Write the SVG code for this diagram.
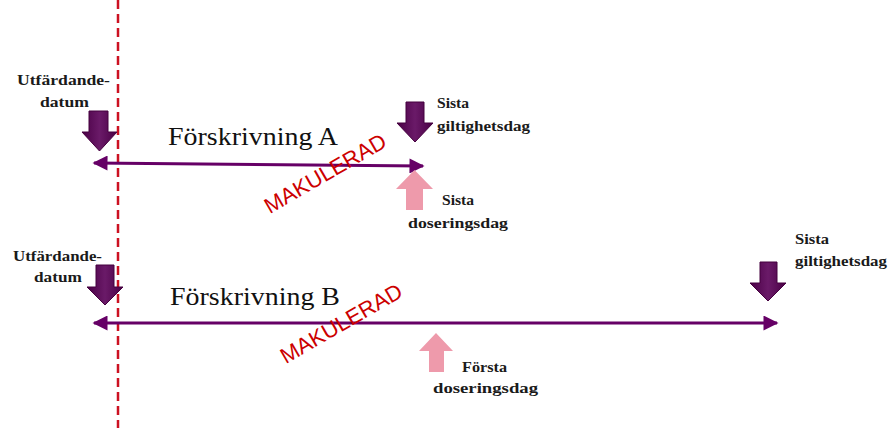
<svg xmlns="http://www.w3.org/2000/svg" width="895" height="428" viewBox="0 0 895 428">
<defs>
<linearGradient id="dg" x1="0" y1="0" x2="1" y2="0">
<stop offset="0" stop-color="#4a0046"/>
<stop offset="0.5" stop-color="#6a1a68"/>
<stop offset="1" stop-color="#4a0046"/>
</linearGradient>
<marker id="ah" viewBox="0 0 10 10" refX="9" refY="5" markerWidth="5.5" markerHeight="5" orient="auto-start-reverse" markerUnits="strokeWidth">
<path d="M0,0 L10,5 L0,10 z" fill="#660066"/>
</marker>
<style>
.lbl{font-family:"Liberation Serif",serif;font-weight:bold;font-size:15.5px;fill:#1a1a1a}
.title{font-family:"Liberation Serif",serif;font-size:26px;fill:#111}
.mak{font-family:"Liberation Sans",Arial,sans-serif;font-size:22px;fill:#cc0000;text-anchor:middle}
.down{fill:url(#dg);stroke:#45003f;stroke-width:1}
.up{fill:#ee9aab}
.conn{stroke:#660066;stroke-width:3;fill:none;marker-start:url(#ah);marker-end:url(#ah)}
</style>
</defs>
<rect width="895" height="428" fill="#fff"/>
<line x1="118" y1="0" x2="118" y2="428" stroke="#cc1122" stroke-width="2.5" stroke-dasharray="9 5"/>
<g id="connectors">
<line class="conn" x1="94" y1="163" x2="423" y2="166"/>
<line class="conn" x1="94" y1="323" x2="777" y2="323"/>
</g>
<g id="utf-a">
<path class="down" d="M89,111 H108 V132 H117 L99.5,151 L82,132 H89 Z"/>
<text class="lbl" x="17" y="85" textLength="93" lengthAdjust="spacingAndGlyphs">Utfärdande-</text>
<text class="lbl" x="40" y="107" textLength="49" lengthAdjust="spacingAndGlyphs">datum</text>
</g>
<g id="sista-gilt-a">
<path class="down" d="M406,102 H424 V123 H433 L415,142 L397,123 H406 Z"/>
<text class="lbl" x="437" y="108" textLength="32" lengthAdjust="spacingAndGlyphs">Sista</text>
<text class="lbl" x="437" y="131" textLength="93" lengthAdjust="spacingAndGlyphs">giltighetsdag</text>
</g>
<g id="sista-dos-a">
<path class="up" d="M406,210 V189 H396 L414.5,170 L433,189 H423 V210 Z"/>
<text class="lbl" x="442" y="205" textLength="32" lengthAdjust="spacingAndGlyphs">Sista</text>
<text class="lbl" x="408" y="228" textLength="100" lengthAdjust="spacingAndGlyphs">doseringsdag</text>
</g>
<g id="forskrivning-a">
<text class="title" x="168" y="145" textLength="170" lengthAdjust="spacingAndGlyphs">Förskrivning A</text>
<text class="mak" x="325" y="181" transform="rotate(-30 325 173)">MAKULERAD</text>
</g>
<g id="utf-b">
<path class="down" d="M96,265 H114 V287 H123 L105,305 L87,287 H96 Z"/>
<text class="lbl" x="13" y="261" textLength="89" lengthAdjust="spacingAndGlyphs">Utfärdande-</text>
<text class="lbl" x="34" y="282" textLength="48" lengthAdjust="spacingAndGlyphs">datum</text>
</g>
<g id="sista-gilt-b">
<path class="down" d="M760,262 H777 V283 H786 L768,301 L750,283 H760 Z"/>
<text class="lbl" x="795" y="244" textLength="34" lengthAdjust="spacingAndGlyphs">Sista</text>
<text class="lbl" x="795" y="266" textLength="92" lengthAdjust="spacingAndGlyphs">giltighetsdag</text>
</g>
<g id="forsta-dos-b">
<path class="up" d="M429,372 V351 H419 L436,333 L453,351 H444 V372 Z"/>
<text class="lbl" x="462" y="372" textLength="45" lengthAdjust="spacingAndGlyphs">Första</text>
<text class="lbl" x="433" y="393" textLength="105" lengthAdjust="spacingAndGlyphs">doseringsdag</text>
</g>
<g id="forskrivning-b">
<text class="title" x="170" y="305" textLength="170" lengthAdjust="spacingAndGlyphs">Förskrivning B</text>
<text class="mak" x="341" y="331" transform="rotate(-30 341 323)">MAKULERAD</text>
</g>
</svg>
